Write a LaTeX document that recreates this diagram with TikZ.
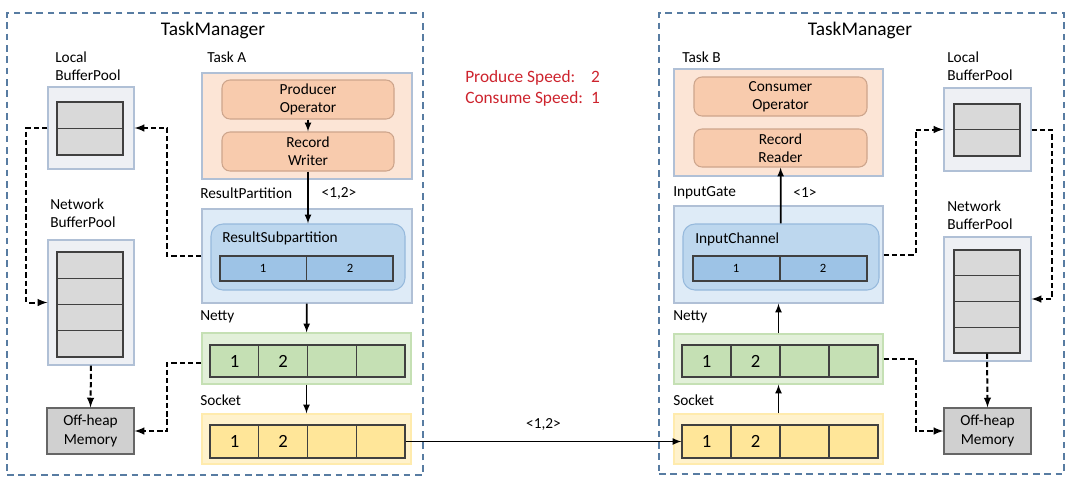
\documentclass[tikz,border=0pt]{standalone}
\usepackage{fontspec}
\setmainfont{Carlito}
\usetikzlibrary{arrows, fit}

\definecolor{tmline}{RGB}{88,124,162}
\definecolor{outline}{RGB}{176,192,214}
\definecolor{taskfill}{RGB}{252,229,214}
\definecolor{opfill}{RGB}{248,203,173}
\definecolor{opline}{RGB}{205,165,140}
\definecolor{partfill}{RGB}{222,235,247}
\definecolor{subfill}{RGB}{189,215,238}
\definecolor{subline}{RGB}{150,185,220}
\definecolor{barfill}{RGB}{157,195,230}
\definecolor{nettyfill}{RGB}{226,240,217}
\definecolor{nettycell}{RGB}{197,224,180}
\definecolor{sockfill}{RGB}{255,242,204}
\definecolor{sockcell}{RGB}{255,230,153}
\definecolor{poolfill}{RGB}{238,240,244}
\definecolor{poolcell}{RGB}{217,217,217}
\definecolor{heapfill}{RGB}{208,208,208}
\definecolor{speedred}{RGB}{205,35,45}

\tikzset{
  tmbox/.style={draw=tmline, line width=1pt, dash pattern=on 5pt off 3.5pt},
  taskbox/.style={fill=taskfill, draw=outline, line width=0.8pt},
  opbox/.style={fill=opfill, draw=opline, line width=0.8pt, rounded corners=6pt, align=center},
  partbox/.style={fill=partfill, draw=outline, line width=0.8pt},
  subbox/.style={fill=subfill, draw=subline, line width=0.8pt, rounded corners=9pt},
  barbox/.style={fill=barfill, draw=black!75, line width=0.8pt},
  nettybox/.style={fill=nettyfill, draw=nettycell, line width=0.8pt},
  nettycells/.style={fill=nettycell, draw=black!75, line width=0.8pt},
  sockbox/.style={fill=sockfill, draw=sockcell!80!white, line width=0.8pt},
  sockcells/.style={fill=sockcell, draw=black!75, line width=0.8pt},
  poolbox/.style={fill=poolfill, draw=outline, line width=0.8pt},
  poolcells/.style={fill=poolcell, draw=black!75, line width=0.8pt},
  heapbox/.style={fill=heapfill, draw=black!60, line width=0.8pt, align=center},
  lbl/.style={anchor=west, align=left},
  digit/.style={font=\fontsize{14}{16}\selectfont},
  smalldigit/.style={font=\fontsize{9.5}{11}\selectfont},
  flow/.style={->, line width=1.3pt},
  ctrl/.style={->, line width=1.5pt, dash pattern=on 4pt off 2.2pt}
}

\begin{document}
\begin{tikzpicture}[x=0.75pt, y=-0.75pt, >=latex,
  font=\fontsize{11.5}{13.8}\selectfont, every node/.style={inner sep=0pt}]

\useasboundingbox (0,0) rectangle (1080,490);

%% ---------- left TaskManager ----------
\node[tmbox, fit={(7,13) (423,475)}] (tmA) {};
\node[font=\fontsize{14.5}{17}\selectfont] (tmAtitle) at (213,30) {TaskManager};

% buffer pools
\node[lbl] (lpoolAlbl) at (55,66.5) {Local\\BufferPool};
\node[poolbox, fit={(48,87) (134,169)}] (lpoolA) {};
\node[poolcells, fit={(57,102) (123,155)}] (lcellA) {};
\draw[black!75, line width=0.8pt] (57,128.5) -- (123,128.5);

\node[lbl] (npoolAlbl) at (50,213.5) {Network\\BufferPool};
\node[poolbox, fit={(48,240) (134,365)}] (npoolA) {};
\node[poolcells, fit={(57,252) (123,357)}] (ncellA) {};
\foreach \y in {278.25,304.5,330.75}
  \draw[black!75, line width=0.8pt] (57,\y) -- (123,\y);

\node[heapbox, fit={(47,408) (134,454)}] (heapA) {};
\node[align=center] (heapAtxt) at (heapA) {Off-heap\\Memory};

% task A
\node[lbl] (taskAlbl) at (207,57) {Task A};
\node[taskbox, fit={(202,73) (412,179)}] (taskA) {};
\node[opbox, fit={(222,80) (394,119)}] (prodOp) {};
\node[align=center] (prodOptxt) at (prodOp) {Producer\\Operator};
\node[opbox, fit={(222,132) (394,171)}] (writer) {};
\node[align=center] (writertxt) at (writer) {Record\\Writer};

% result partition
\node[lbl] (partAlbl) at (200,193) {ResultPartition};
\node (recA) at (339,193) {<1,2>};
\node[partbox, fit={(202,209) (412,303)}] (partA) {};
\node[subbox, fit={(211,224) (405,290)}] (subA) {};
\node[lbl] (subAlbl) at (222,238) {ResultSubpartition};
\node[barbox, fit={(220,256) (393,281)}] (barA) {};
\draw[black!75, line width=0.8pt] (306.5,256) -- (306.5,281);
\node[smalldigit] (barA1) at (263,268.5) {1};
\node[smalldigit] (barA2) at (350,268.5) {2};

% netty
\node[lbl] (nettyAlbl) at (200,317) {Netty};
\node[nettybox, fit={(202,333) (411,384)}] (nettyA) {};
\node[nettycells, fit={(210,345) (405,377)}] (ncellsA) {};
\foreach \x in {258.75,307.5,356.25}
  \draw[black!75, line width=0.8pt] (\x,345) -- (\x,377);
\node[digit] (nA1) at (234.5,361) {1};
\node[digit] (nA2) at (283,361) {2};

% socket
\node[lbl] (sockAlbl) at (200,400) {Socket};
\node[sockbox, fit={(202,414) (411,464)}] (sockA) {};
\node[sockcells, fit={(210,425) (405,458)}] (scellsA) {};
\foreach \x in {258.75,307.5,356.25}
  \draw[black!75, line width=0.8pt] (\x,425) -- (\x,458);
\node[digit] (sA1) at (234.5,441.5) {1};
\node[digit] (sA2) at (283,441.5) {2};

\draw[flow] (prodOp) -- (writer);
\draw[flow] (writer) -- (subA);
\draw[flow] (partA) -- (nettyA);
\draw[flow] (nettyA) -- (sockA);

\draw[ctrl] (partA.west) -- ++(-34,0) |- (lpoolA.east);
\draw[ctrl] (lpoolA.west) -- ++(-21,0) |- (npoolA.west);
\draw[ctrl] (npoolA.south) -- (heapA.north);
\draw[ctrl] ([yshift=-3pt]nettyA.west) -- ++(-34,0) |- (heapA.east);

%% ---------- speeds ----------
\node[anchor=west, text=speedred, font=\fontsize{13}{15.75}\selectfont] (speed) at (465,88.5)
  {\begin{tabular}{@{}l@{\hspace{6pt}}l@{}}Produce Speed: & 2\\Consume Speed: & 1\end{tabular}};

%% ---------- right TaskManager ----------
\node[tmbox, fit={(659,13) (1064,474)}] (tmB) {};
\node[font=\fontsize{14.5}{17}\selectfont] (tmBtitle) at (860,30) {TaskManager};

% task B
\node[lbl] (taskBlbl) at (682,57) {Task B};
\node[taskbox, fit={(674,69) (883,176)}] (taskB) {};
\node[opbox, fit={(694,77) (867,116)}] (consOp) {};
\node[align=center] (consOptxt) at (consOp) {Consumer\\Operator};
\node[opbox, fit={(694,129) (867,167)}] (reader) {};
\node[align=center] (readertxt) at (reader) {Record\\Reader};

% input gate
\node[lbl] (gateBlbl) at (673,193) {InputGate};
\node (recB) at (805,193) {<1>};
\node[partbox, fit={(674,206) (883,303)}] (gateB) {};
\node[subbox, fit={(683,224) (879,290)}] (chanB) {};
\node[lbl] (chanBlbl) at (695,239) {InputChannel};
\node[barbox, fit={(693,256) (867,281)}] (barB) {};
\draw[black!75, line width=0.8pt] (780,256) -- (780,281);
\node[smalldigit] (barB1) at (736,268.5) {1};
\node[smalldigit] (barB2) at (823,268.5) {2};

% netty
\node[lbl] (nettyBlbl) at (673,317) {Netty};
\node[nettybox, fit={(674,334) (883,384)}] (nettyB) {};
\node[nettycells, fit={(682,345) (878,377)}] (ncellsB) {};
\foreach \x in {731,780,829}
  \draw[black!75, line width=0.8pt] (\x,345) -- (\x,377);
\node[digit] (nB1) at (706.5,361) {1};
\node[digit] (nB2) at (755.5,361) {2};

% socket
\node[lbl] (sockBlbl) at (673,400) {Socket};
\node[sockbox, fit={(674,414) (883,464)}] (sockB) {};
\node[sockcells, fit={(682,425) (878,458)}] (scellsB) {};
\foreach \x in {731,780,829}
  \draw[black!75, line width=0.8pt] (\x,425) -- (\x,458);
\node[digit] (sB1) at (706.5,441.5) {1};
\node[digit] (sB2) at (755.5,441.5) {2};

% buffer pools
\node[lbl] (lpoolBlbl) at (947,66.5) {Local\\BufferPool};
\node[poolbox, fit={(944,88) (1031,171)}] (lpoolB) {};
\node[poolcells, fit={(954,104) (1020,156)}] (lcellB) {};
\draw[black!75, line width=0.8pt] (954,129.5) -- (1020,129.5);

\node[lbl] (npoolBlbl) at (947,215) {Network\\BufferPool};
\node[poolbox, fit={(944,237) (1031,361)}] (npoolB) {};
\node[poolcells, fit={(954,250) (1020,353)}] (ncellB) {};
\foreach \y in {275.75,301.5,327.25}
  \draw[black!75, line width=0.8pt] (954,\y) -- (1020,\y);

\node[heapbox, fit={(944,408) (1031,454)}] (heapB) {};
\node[align=center] (heapBtxt) at (heapB) {Off-heap\\Memory};

\draw[flow] (chanB) -- (reader);
\draw[flow] (nettyB) -- (gateB);
\draw[flow] (sockB) -- (nettyB);

\draw[ctrl] (gateB.east) -- ++(32,0) |- (lpoolB.west);
\draw[ctrl] (lpoolB.east) -- ++(20,0) |- (npoolB.east);
\draw[ctrl] (ncellB.south) -- (heapB.north);
\draw[ctrl] (nettyB.east) -- ++(32,0) |- (heapB.west);

%% ---------- link between sockets ----------
\draw[flow] (scellsA.east) -- (scellsB.west)
  node[midway, above=8pt] (recLink) {<1,2>};

\end{tikzpicture}
\end{document}
